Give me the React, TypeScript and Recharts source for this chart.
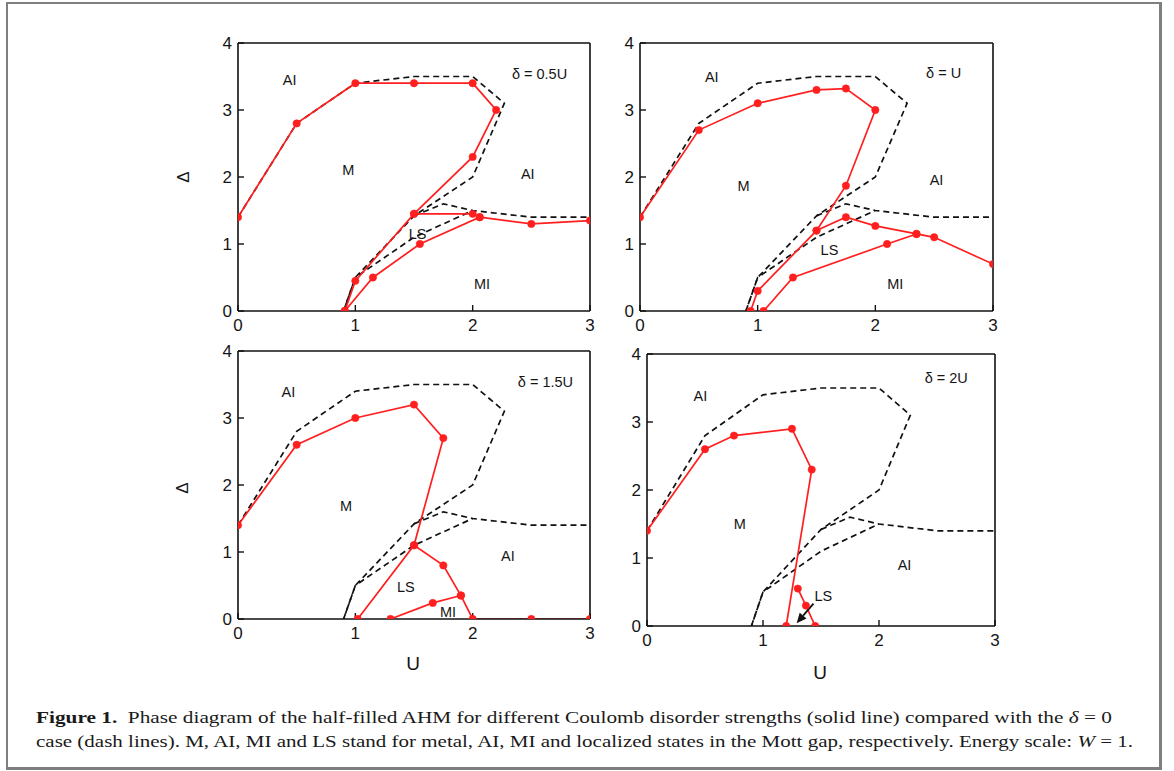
import React from 'react';
import { LineChart, Line, XAxis, YAxis, ReferenceDot, ReferenceLine } from 'recharts';

type Pt = { x: number; y: number };
type Lbl = { x: number; y: number; text: string };

const U_TICKS = [0, 1, 2, 3];
const DELTA_TICKS = [0, 1, 2, 3, 4];

// delta = 0 case (dashed), identical in every panel
const clean0Metal: Pt[] = [
  { x: 0, y: 1.4 }, { x: 0.5, y: 2.8 }, { x: 1, y: 3.4 }, { x: 1.5, y: 3.5 }, { x: 2, y: 3.5 },
  { x: 2.27, y: 3.1 }, { x: 2, y: 2 }, { x: 1.5, y: 1.42 }, { x: 1, y: 0.5 }, { x: 0.9, y: 0 },
];
const clean0Upper: Pt[] = [
  { x: 1.5, y: 1.42 }, { x: 1.75, y: 1.6 }, { x: 2, y: 1.5 }, { x: 2.5, y: 1.4 }, { x: 3, y: 1.4 },
];
const clean0Lower: Pt[] = [
  { x: 0.9, y: 0 }, { x: 1, y: 0.5 }, { x: 1.5, y: 1.1 }, { x: 2, y: 1.5 },
];

// delta = 0.5U
const d05Main: Pt[] = [
  { x: 0, y: 1.4 }, { x: 0.5, y: 2.8 }, { x: 1, y: 3.4 }, { x: 1.5, y: 3.4 }, { x: 2, y: 3.4 },
  { x: 2.2, y: 3.0 }, { x: 2, y: 2.3 }, { x: 1.5, y: 1.45 }, { x: 1, y: 0.45 }, { x: 0.91, y: 0 },
];
const d05Lower: Pt[] = [
  { x: 0.91, y: 0 }, { x: 1.15, y: 0.5 }, { x: 1.55, y: 1.0 }, { x: 2.06, y: 1.4 }, { x: 2.5, y: 1.3 }, { x: 3, y: 1.35 },
];
const d05Mid: Pt[] = [{ x: 1.5, y: 1.45 }, { x: 2, y: 1.45 }, { x: 2.06, y: 1.4 }];
const d05Labels: Lbl[] = [
  { x: 0.44, y: 3.45, text: 'AI' }, { x: 2.57, y: 3.53, text: 'δ = 0.5U' }, { x: 0.94, y: 2.1, text: 'M' },
  { x: 2.47, y: 2.05, text: 'AI' }, { x: 1.53, y: 1.15, text: 'LS' }, { x: 2.08, y: 0.4, text: 'MI' },
];

// delta = U
const d1Main: Pt[] = [
  { x: 0, y: 1.4 }, { x: 0.5, y: 2.7 }, { x: 1, y: 3.1 }, { x: 1.5, y: 3.3 }, { x: 1.75, y: 3.32 },
  { x: 2, y: 3.0 }, { x: 1.75, y: 1.87 }, { x: 1.5, y: 1.2 }, { x: 1, y: 0.3 }, { x: 0.94, y: 0 },
];
const d1Upper: Pt[] = [
  { x: 1.5, y: 1.2 }, { x: 1.75, y: 1.4 }, { x: 2, y: 1.27 }, { x: 2.35, y: 1.15 }, { x: 2.5, y: 1.1 }, { x: 3, y: 0.7 },
];
const d1Lower: Pt[] = [{ x: 1.05, y: 0 }, { x: 1.3, y: 0.5 }, { x: 2.1, y: 1.0 }, { x: 2.35, y: 1.15 }];
const d1Labels: Lbl[] = [
  { x: 0.61, y: 3.5, text: 'AI' }, { x: 2.58, y: 3.55, text: 'δ = U' }, { x: 0.88, y: 1.86, text: 'M' },
  { x: 2.52, y: 1.96, text: 'AI' }, { x: 1.61, y: 0.91, text: 'LS' }, { x: 2.17, y: 0.41, text: 'MI' },
];

// delta = 1.5U
const d15Main: Pt[] = [
  { x: 0, y: 1.4 }, { x: 0.5, y: 2.6 }, { x: 1, y: 3.0 }, { x: 1.5, y: 3.2 }, { x: 1.75, y: 2.7 },
  { x: 1.5, y: 1.1 }, { x: 1.02, y: 0 },
];
const d15Edge: Pt[] = [
  { x: 1.5, y: 1.1 }, { x: 1.75, y: 0.8 }, { x: 1.9, y: 0.35 }, { x: 2, y: 0 }, { x: 2.5, y: 0 }, { x: 3, y: 0 },
];
const d15Inner: Pt[] = [{ x: 1.3, y: 0 }, { x: 1.66, y: 0.24 }, { x: 1.9, y: 0.35 }];
const d15Labels: Lbl[] = [
  { x: 0.43, y: 3.39, text: 'AI' }, { x: 2.62, y: 3.54, text: 'δ = 1.5U' }, { x: 0.92, y: 1.68, text: 'M' },
  { x: 2.3, y: 0.94, text: 'AI' }, { x: 1.43, y: 0.48, text: 'LS' }, { x: 1.79, y: 0.1, text: 'MI' },
];

// delta = 2U
const d2Main: Pt[] = [
  { x: 0, y: 1.4 }, { x: 0.5, y: 2.6 }, { x: 0.75, y: 2.8 }, { x: 1.25, y: 2.9 }, { x: 1.42, y: 2.3 }, { x: 1.2, y: 0 },
];
const d2Ls: Pt[] = [{ x: 1.3, y: 0.55 }, { x: 1.37, y: 0.3 }, { x: 1.45, y: 0 }];
const d2Arrow: Pt[] = [{ x: 1.435, y: 0.33 }, { x: 1.29, y: 0.04 }];
const d2Labels: Lbl[] = [
  { x: 0.46, y: 3.38, text: 'AI' }, { x: 2.58, y: 3.65, text: 'δ = 2U' }, { x: 0.8, y: 1.5, text: 'M' },
  { x: 2.22, y: 0.9, text: 'AI' }, { x: 1.52, y: 0.44, text: 'LS' },
];

const RED = '#ff1f1f';
const SANS = '"Liberation Sans", Arial, sans-serif';
const SERIF = '"Liberation Serif", "Times New Roman", serif';

const ML = 40;
const MR = 11;
const MT = 11;
const MB = 30;

const ArrowShape = (p: any) => {
  const { x1, y1, x2, y2 } = p;
  if ([x1, y1, x2, y2].some((v) => typeof v !== 'number' || isNaN(v))) return null;
  const ang = Math.atan2(y2 - y1, x2 - x1);
  const L = 10;
  const W = 4.5;
  const bx = x2 - L * Math.cos(ang);
  const by = y2 - L * Math.sin(ang);
  const px = -Math.sin(ang) * W;
  const py = Math.cos(ang) * W;
  return (
    <g>
      <line x1={x1} y1={y1} x2={bx} y2={by} stroke="#111" strokeWidth={1.8} />
      <polygon points={`${x2},${y2} ${bx + px},${by + py} ${bx - px},${by - py}`} fill="#111" />
    </g>
  );
};

type PanelProps = {
  left: number; top: number; w: number; h: number;
  solid: Pt[][]; labels: Lbl[]; arrow?: Pt[];
};

const AXIS_LINE = { stroke: '#111', strokeWidth: 1.6 };
const TICK_LINE = { stroke: '#111', strokeWidth: 1.4 };
const TICK_TEXT = { fontSize: 17, fontFamily: SANS, fill: '#151515' };

const Panel = ({ left, top, w, h, solid, labels, arrow }: PanelProps) => {
  return (
    <div style={{ position: 'absolute', left: left - ML, top: top - MT - 1 }}>
      <LineChart width={w + ML + MR + 1} height={h + MT + 1 + MB} margin={{ top: MT, right: MR, bottom: 0, left: 0 }}>
        <XAxis dataKey="x" type="number" domain={[0, 3]} ticks={U_TICKS} height={MB}
          axisLine={AXIS_LINE} tickLine={TICK_LINE}
          tickSize={-6} tickMargin={14} tick={TICK_TEXT}
          allowDataOverflow interval={0} />
        <XAxis xAxisId="top" orientation="top" dataKey="x" type="number" domain={[0, 3]} ticks={U_TICKS} height={1}
          axisLine={AXIS_LINE} tickLine={TICK_LINE}
          tickSize={-6} tick={false} allowDataOverflow interval={0} />
        <YAxis type="number" domain={[0, 4]} ticks={DELTA_TICKS} width={ML}
          axisLine={AXIS_LINE} tickLine={TICK_LINE}
          tickSize={-6} tickMargin={12} tick={TICK_TEXT}
          allowDataOverflow interval={0} />
        <YAxis yAxisId="right" orientation="right" type="number" domain={[0, 4]} ticks={DELTA_TICKS} width={1}
          axisLine={AXIS_LINE} tickLine={TICK_LINE}
          tickSize={-6} tick={false} allowDataOverflow interval={0} />
        <Line data={clean0Metal} dataKey="y" xAxisId="top" yAxisId="right" type="linear" stroke="#111" strokeWidth={1.7}
          strokeDasharray="6 4" dot={false} activeDot={false} isAnimationActive={false} />
        <Line data={clean0Upper} dataKey="y" type="linear" stroke="#111" strokeWidth={1.7}
          strokeDasharray="6 4" dot={false} activeDot={false} isAnimationActive={false} />
        <Line data={clean0Lower} dataKey="y" type="linear" stroke="#111" strokeWidth={1.7}
          strokeDasharray="6 4" dot={false} activeDot={false} isAnimationActive={false} />
        {solid.map((d, i) => (
          <Line key={'s' + i} data={d} dataKey="y" type="linear" stroke={RED} strokeWidth={1.7}
            dot={{ r: 3.7, fill: RED, stroke: RED, strokeWidth: 0.5 }} activeDot={false} isAnimationActive={false} />
        ))}
        {arrow && (
          <ReferenceLine segment={[arrow[0], arrow[1]] as any} ifOverflow="visible" shape={ArrowShape as any} />
        )}
        {labels.map((l, i) => (
          <ReferenceDot key={'l' + i} x={l.x} y={l.y} r={0} ifOverflow="visible"
            shape={(p: any) => (
              <text x={p.cx} y={p.cy} textAnchor="middle" dominantBaseline="central"
                fontFamily={SANS} fontSize={14.5} fill="#151515">{l.text}</text>
            )} />
        ))}
      </LineChart>
    </div>
  );
};

export default function App() {
  return (
    <div style={{ position: 'absolute', left: 0, top: 0, width: 1174, height: 771, background: '#fff' }}>
      <div style={{
        position: 'absolute', left: 6, top: 2, width: 1156, height: 768, boxSizing: 'border-box',
        borderLeft: '2px solid #7f7f7f', borderTop: '2px solid #7f7f7f',
        borderRight: '3px solid #7f7f7f', borderBottom: '3px solid #7f7f7f',
      }} />
      <Panel left={238} top={43} w={352} h={268} solid={[d05Main, d05Lower, d05Mid]} labels={d05Labels} />
      <Panel left={640} top={43} w={353} h={268} solid={[d1Main, d1Upper, d1Lower]} labels={d1Labels} />
      <Panel left={238} top={351} w={352} h={268} solid={[d15Main, d15Edge, d15Inner]} labels={d15Labels} />
      <Panel left={647} top={354} w={348} h={272} solid={[d2Main, d2Ls]} labels={d2Labels} arrow={d2Arrow} />
      <svg style={{ position: 'absolute', left: 0, top: 0 }} width={1174} height={771} pointerEvents="none">
        <text x={183} y={177} transform="rotate(-90 183 177)" textAnchor="middle" dominantBaseline="central"
          fontFamily={SANS} fontSize={17} fill="#151515">Δ</text>
        <text x={182} y={488} transform="rotate(-90 182 488)" textAnchor="middle" dominantBaseline="central"
          fontFamily={SANS} fontSize={17} fill="#151515">Δ</text>
        <text x={413} y={663} textAnchor="middle" dominantBaseline="central" fontFamily={SANS} fontSize={19} fill="#151515">U</text>
        <text x={820} y={672} textAnchor="middle" dominantBaseline="central" fontFamily={SANS} fontSize={19} fill="#151515">U</text>
        <text x={36} y={723} fontFamily={SERIF} fontSize={17.5} fill="#1a1a1a" textLength={1076} lengthAdjust="spacingAndGlyphs">
          <tspan fontWeight="bold">Figure 1.</tspan>
          <tspan>{'\u00a0\u00a0Phase diagram of the half-filled AHM for different Coulomb disorder strengths (solid line) compared with the '}</tspan>
          <tspan fontStyle="italic">δ</tspan>
          <tspan>{' = 0'}</tspan>
        </text>
        <text x={36} y={747} fontFamily={SERIF} fontSize={17.5} fill="#1a1a1a" textLength={1097} lengthAdjust="spacingAndGlyphs">
          <tspan>{'case (dash lines). M, AI, MI and LS stand for metal, AI, MI and localized states in the Mott gap, respectively. Energy scale: '}</tspan>
          <tspan fontStyle="italic">W</tspan>
          <tspan>{' = 1.'}</tspan>
        </text>
      </svg>
    </div>
  );
}
